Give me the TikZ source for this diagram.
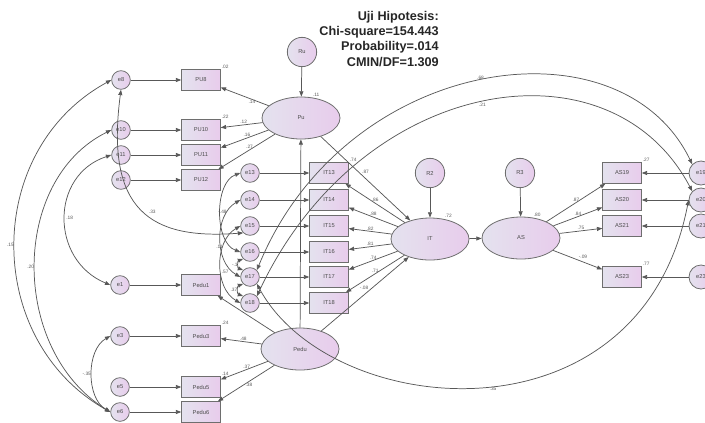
\documentclass[tikz,border=0pt]{standalone}
\usepackage{fontspec}
\setmainfont{Liberation Sans}
\usetikzlibrary{arrows.meta,shapes.geometric}
\definecolor{ln}{HTML}{585858}
\definecolor{bd}{HTML}{6E6E6E}
\definecolor{fl}{HTML}{E4E2EE}
\definecolor{fr}{HTML}{E8CCEC}
\begin{document}
\begin{tikzpicture}[x=0.75pt,y=-0.75pt,
  every node/.style={font=\fontsize{4.3}{5}\selectfont, text=black!70},
  obs/.style={rectangle, draw=bd, line width=0.6pt, left color=fl, right color=fr, minimum width=29pt, minimum height=15.5pt, inner sep=0pt},
  err/.style={circle, draw=bd, line width=0.6pt, left color=fl, right color=fr, minimum size=14pt, inner sep=0pt},
  errr/.style={err, minimum size=18pt},
  res/.style={circle, draw=bd, line width=0.6pt, left color=fl, right color=fr, minimum size=22pt, inner sep=0pt},
  lat/.style={ellipse, draw=bd, line width=0.6pt, left color=fl, right color=fr, minimum width=58.5pt, minimum height=31.5pt, inner sep=0pt},
  arr/.style={draw=ln, line width=0.55pt, -{Triangle[length=4pt,width=3pt]}},
  cov/.style={draw=ln, line width=0.55pt, {Triangle[length=4pt,width=3pt]}-{Triangle[length=4pt,width=3pt]}},
  lbl/.style={font=\fontsize{3.6}{4}\selectfont, text=black!65, inner sep=0.6pt},
  ttl/.style={font=\fontsize{9.5}{11}\selectfont\bfseries, anchor=east, inner sep=0pt, text=black!85}
]
\useasboundingbox (0,0) rectangle (705,422);

% title
\node[ttl] (t1) at (439,17) {Uji Hipotesis:};
\node[ttl] (t2) at (439,32) {Chi-square=154.443};
\node[ttl] (t3) at (439,47) {Probability=.014};
\node[ttl] (t4) at (439,62) {CMIN/DF=1.309};

% latent variables
\node[res] (Ru) at (302,52) {Ru};
\node[lat, label={[lbl]62:.11}] (Pu) at (301,118) {Pu};
\node[lat] (Pedu) at (300,349) {Pedu};
\node[lat, label={[lbl]55:.72}] (IT) at (430,239) {IT};
\node[lat, label={[lbl]60:.80}] (AS) at (521,238) {AS};
\node[res] (R2) at (430,173) {R2};
\node[res] (R3) at (520,173) {R3};

% PU indicators
\node[obs, label={[lbl]north east:.02}] (PU8) at (201,80) {PU8};
\node[obs, label={[lbl]north east:.22}] (PU10) at (201,130) {PU10};
\node[obs] (PU11) at (201,155) {PU11};
\node[obs] (PU12) at (201,180) {PU12};
\node[err] (e8) at (121,80) {e8};
\node[err] (e10) at (121,130) {e10};
\node[err] (e11) at (121,155) {e11};
\node[err] (e12) at (121,180) {e12};

% Pedu indicators
\node[obs, label={[lbl]north east:.57}] (Pedu1) at (201,285) {Pedu1};
\node[obs, label={[lbl]north east:.24}] (Pedu3) at (201,336) {Pedu3};
\node[obs, label={[lbl]north east:.14}] (Pedu5) at (201,387) {Pedu5};
\node[obs] (Pedu6) at (201,412) {Pedu6};
\node[err] (e1) at (120,285) {e1};
\node[err] (e3) at (120,336) {e3};
\node[err] (e5) at (120,387) {e5};
\node[err] (e6) at (120,412) {e6};

% IT indicators
\node[obs, label={[lbl]north east:.74}] (IT13) at (329,173) {IT13};
\node[obs] (IT14) at (329,200) {IT14};
\node[obs] (IT15) at (329,226) {IT15};
\node[obs] (IT16) at (329,252) {IT16};
\node[obs] (IT17) at (329,277) {IT17};
\node[obs] (IT18) at (329,303) {IT18};
\node[err] (e13) at (250,173) {e13};
\node[err] (e14) at (250,200) {e14};
\node[err] (e15) at (250,226) {e15};
\node[err] (e16) at (250,252) {e16};
\node[err] (e17) at (250,277) {e17};
\node[err] (e18) at (250,303) {e18};

% AS indicators
\node[obs, label={[lbl]north east:.27}] (AS19) at (622,173) {AS19};
\node[obs] (AS20) at (622,200) {AS20};
\node[obs] (AS21) at (622,226) {AS21};
\node[obs, label={[lbl]north east:.77}] (AS23) at (622,277) {AS23};
\node[errr] (e19) at (701,173) {e19};
\node[errr] (e20) at (701,200) {e20};
\node[errr] (e21) at (701,226) {e21};
\node[errr] (e23) at (701,277) {e23};

% residual arrows
\draw[arr] (Ru) -- (Pu);
\draw[arr] (R2) -- (IT);
\draw[arr] (R3) -- (AS);

% structural paths
\draw[arr] (Pedu) -- (Pu);
\draw[arr] (Pu) -- node[lbl, pos=0.45, above right]{.87} (IT);
\draw[arr] (Pedu) -- node[lbl, pos=0.55, above left]{-.08} (IT);
\draw[arr] (IT) -- (AS);

% loadings Pu
\draw[arr] (Pu) -- node[lbl, pos=0.35, below]{.14} (PU8);
\draw[arr] (Pu) -- node[lbl, pos=0.45, above]{.12} (PU10);
\draw[arr] (Pu) -- node[lbl, pos=0.45, above]{.16} (PU11);
\draw[arr] (Pu) -- node[lbl, pos=0.45, above]{.27} (PU12);

% loadings Pedu
\draw[arr] (Pedu) -- (Pedu1);
\draw[arr] (Pedu) -- node[lbl, pos=0.45, above]{.48} (Pedu3);
\draw[arr] (Pedu) -- node[lbl, pos=0.45, above]{.37} (Pedu5);
\draw[arr] (Pedu) -- node[lbl, pos=0.45, below]{.38} (Pedu6);

% loadings IT
\draw[arr] (IT) -- node[lbl, pos=0.5, above]{.86} (IT13);
\draw[arr] (IT) -- node[lbl, pos=0.5, above]{.88} (IT14);
\draw[arr] (IT) -- node[lbl, pos=0.5, above]{.82} (IT15);
\draw[arr] (IT) -- node[lbl, pos=0.5, above]{.81} (IT16);
\draw[arr] (IT) -- node[lbl, pos=0.5, above]{.74} (IT17);
\draw[arr] (IT) -- node[lbl, pos=0.5, above]{.71} (IT18);

% loadings AS
\draw[arr] (AS) -- node[lbl, pos=0.5, above]{.87} (AS19);
\draw[arr] (AS) -- node[lbl, pos=0.5, above]{.84} (AS20);
\draw[arr] (AS) -- node[lbl, pos=0.5, above]{.75} (AS21);
\draw[arr] (AS) -- node[lbl, pos=0.5, above right]{-.09} (AS23);

% error arrows
\foreach \e/\b in {e8/PU8,e10/PU10,e11/PU11,e12/PU12,e1/Pedu1,e3/Pedu3,e5/Pedu5,e6/Pedu6,
  e13/IT13,e14/IT14,e15/IT15,e16/IT16,e17/IT17,e18/IT18,e19/AS19,e20/AS20,e21/AS21,e23/AS23}
  \draw[arr] (\e) -- (\b);

% covariances left
\draw[cov] (e8.west) .. controls (-17,150) and (-17,340) .. node[lbl, pos=0.5, left]{.15} (e6.west);
\draw[cov] (e10.west) .. controls (10,180) and (10,350) .. node[lbl, pos=0.5, left]{.20} (e6.west);
\draw[cov] (e11.west) .. controls (50,175) and (50,260) .. node[lbl, pos=0.5, right]{.18} (e1.west);
\draw[cov] (e8.south) .. controls (105,210) and (150,240) .. node[lbl, pos=0.55, above right]{.33} (e15.south west);
\draw[cov] (e3.west) .. controls (86,350) and (86,398) .. node[lbl, pos=0.5, left]{-.35} (e6.west);

% covariances among IT errors
\draw[cov] (e14.west) to[out=210,in=150] node[lbl, pos=0.2, left]{-.48} (e17.west);
\draw[cov] (e13.west) to[out=200,in=160,looseness=0.9] (e16.west);
\draw[cov] (e15.west) to[out=210,in=150] node[lbl, pos=0.3, left]{.11} (e18.west);
\draw[cov] (e16.south west) to[out=200,in=160,looseness=1.4] node[lbl, pos=0.5, left]{-.1} (e17.north west);
\draw[cov] (e17.south west) to[out=200,in=160,looseness=1.4] node[lbl, pos=0.5, left]{.37} (e18.north west);

% long covariances to AS errors
\draw[cov] (e17.north east) .. controls (345,55) and (620,15) .. node[lbl, pos=0.5, above]{.68} (e19.north west);
\draw[cov] (e18.north east) .. controls (360,75) and (610,35) .. node[lbl, pos=0.5, below]{.21} (e20.north west);
\draw[cov] (e17.south east) .. controls (330,420) and (640,450) .. node[lbl, pos=0.52, below]{.35} (e20.west);

\end{tikzpicture}
\end{document}
